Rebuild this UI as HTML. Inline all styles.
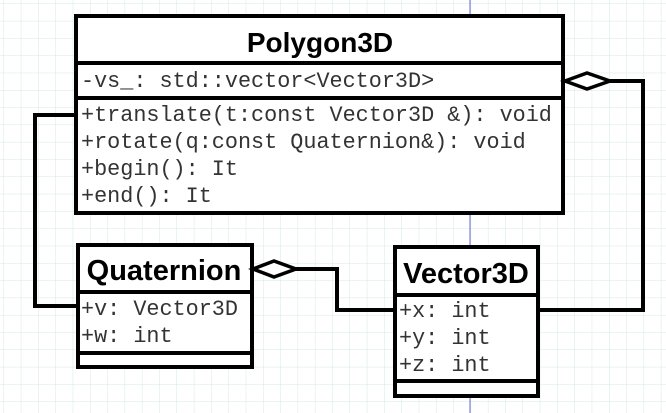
<!DOCTYPE html>
<html><head><meta charset="utf-8"><style>
html,body{margin:0;padding:0;background:#fff;}
svg{display:block}
.m{font-family:"Liberation Mono",monospace;font-size:21.8px;fill:#333}
.t{font-family:"Liberation Sans",sans-serif;font-weight:bold;font-size:28px;fill:#000}
.n{font-family:"Liberation Sans Narrow","Liberation Sans",sans-serif;font-weight:bold;font-size:29px;fill:#000}
</style></head><body>
<svg width="666" height="413" viewBox="0 0 666 413" xmlns="http://www.w3.org/2000/svg">
<defs>
<pattern id="g" width="17.3" height="17.3" patternUnits="userSpaceOnUse" x="4" y="4">
<path d="M17.3 0V17.3M0 17.3H17.3" stroke="#d6e8e8" stroke-width="1" fill="none"/>
</pattern>
</defs>
<rect width="666" height="413" fill="url(#g)"/>
<line x1="470" y1="0" x2="470" y2="413" stroke="#6a6ad0" stroke-width="1"/>
<g fill="none" stroke="#000" stroke-width="4">
<polyline points="76,115 35,115 35,306 78,306"/>
<polyline points="610,81 643,81 643,310 538,310"/>
<polyline points="296,269 337,269 337,310 395,310"/>
</g>
<rect x="76" y="16" width="487" height="197" fill="#fff" stroke="#000" stroke-width="4"/>
<line x1="76" y1="63" x2="563" y2="63" stroke="#000" stroke-width="4"/>
<line x1="76" y1="98" x2="563" y2="98" stroke="#000" stroke-width="4"/>
<text x="320" y="52" class="t" text-anchor="middle">Polygon3D</text>
<text x="81" y="87" class="m">-vs_: std::vector&lt;Vector3D&gt;</text>
<text x="81" y="121" class="m">+translate(t:const Vector3D &amp;): void</text>
<text x="81" y="148" class="m">+rotate(q:const Quaternion&amp;): void</text>
<text x="81" y="175" class="m">+begin(): It</text>
<text x="81" y="202" class="m">+end(): It</text>
<rect x="78" y="245" width="174" height="122" fill="#fff" stroke="#000" stroke-width="4"/>
<line x1="78" y1="292" x2="252" y2="292" stroke="#000" stroke-width="4"/>
<line x1="78" y1="353" x2="252" y2="353" stroke="#000" stroke-width="4"/>
<text x="164" y="280" class="n" text-anchor="middle">Quaternion</text>
<text x="81" y="315" class="m">+v: Vector3D</text>
<text x="81" y="342" class="m">+w: int</text>
<rect x="395" y="247" width="143" height="149" fill="#fff" stroke="#000" stroke-width="4"/>
<line x1="395" y1="295" x2="538" y2="295" stroke="#000" stroke-width="4"/>
<line x1="395" y1="381" x2="538" y2="381" stroke="#000" stroke-width="4"/>
<text x="466" y="283" class="n" text-anchor="middle">Vector3D</text>
<text x="399" y="317" class="m">+x: int</text>
<text x="399" y="344" class="m">+y: int</text>
<text x="399" y="371" class="m">+z: int</text>
<polygon points="565,81 587,73 610,81 587,89" fill="#fff" stroke="#000" stroke-width="3.5"/>
<polygon points="253,269 274,261 296,269 274,277" fill="#fff" stroke="#000" stroke-width="3.5"/>
</svg>
</body></html>
